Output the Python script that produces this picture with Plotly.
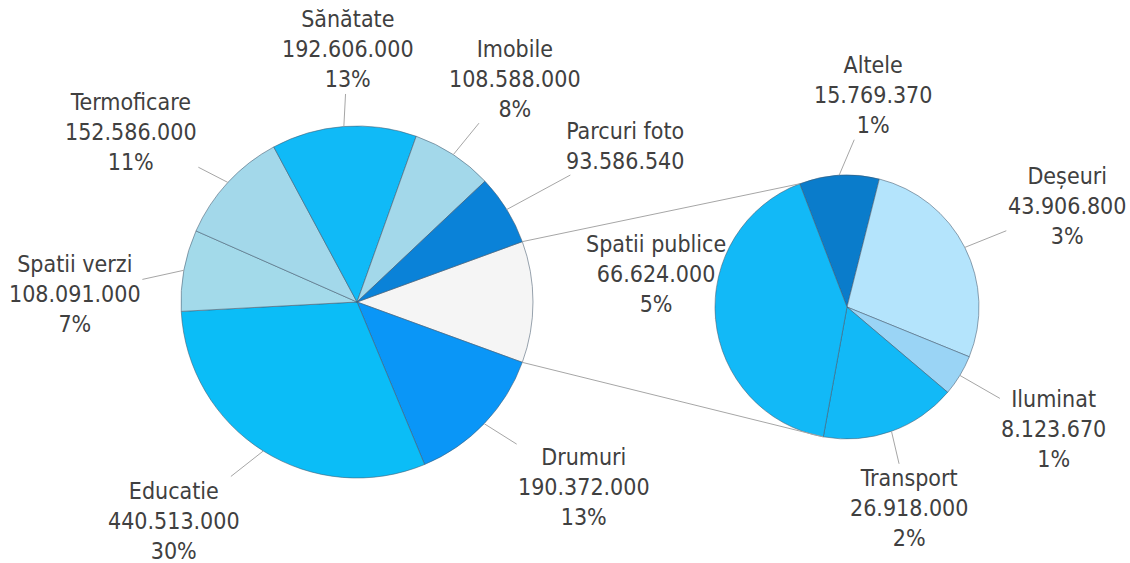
import math
import plotly.graph_objects as go

# ---------------- data ----------------
main_labels = ["Drumuri", "Educatie", "Spatii verzi", "Termoficare",
               "Sănătate", "Imobile", "Parcuri foto"]
main_values = [190372000, 440513000, 108091000, 152586000,
               192606000, 108588000, 93586540]
main_show_pct = [True, True, True, True, True, True, False]

sub_labels = ["Altele", "Deșeuri", "Iluminat", "Transport", "Spatii publice"]
sub_values = [15769370, 43906800, 8123670, 26918000, 66624000]
sub_show_pct = [True, True, True, True, True]

other_label = "Altele (detaliu)"

# ---------------- style ----------------
main_colors = ["#0A96F7", "#0BBDF7", "#A3DAEA", "#A3D8EA",
               "#10BAF7", "#A3D8EA", "#0A82D8"]
other_color = "#F5F5F5"
sub_colors = ["#0A7CCB", "#B4E4FC", "#9AD4F5", "#12B9F7", "#12B9F7"]

W, H = 1130, 563
L_CX, L_CY, L_R = 357, 302, 176
R_CX, R_CY, R_R = 847, 307, 132
R_ROT = -21

FONT = dict(family="DejaVu Sans Condensed, Liberation Sans, Arial, sans-serif",
            size=23, color="#404040")
LINE_COLOR = "#A6A6A6"

label_offsets = {
    "Sănătate": (4, -77), "Imobile": (62, -76), "Parcuri foto": (118, -64),
    "Termoficare": (-97, -50), "Spatii verzi": (-109, 24),
    "Educatie": (-89, 70), "Drumuri": (100, 63),
    "Altele": (34, -80), "Deșeuri": (102, -41), "Iluminat": (94, 54),
    "Transport": (18, 77), "Spatii publice": (-60, -45),
}

# ---------------- derived ----------------
other_value = sum(sub_values)
grand_total = sum(main_values) + other_value
left_labels = [other_label] + main_labels
left_values = [other_value] + main_values
left_colors = [other_color] + main_colors
L_ROT = 90 - 180 * other_value / sum(left_values)


def fmt(v):
    return f"{v:,.0f}".replace(",", ".")


def pct(v):
    return f"{round(100 * v / grand_total)}%"


def domain(cx, cy, r):
    return dict(x=[(cx - r) / W, (cx + r) / W], y=[1 - (cy + r) / H, 1 - (cy - r) / H])


def slice_angles(values, rot, tot=None):
    tot = tot or sum(values)
    out = []
    a = rot
    for v in values:
        d = 360 * v / tot
        out.append((a, a + d))
        a += d
    return out


def edge_point(cx, cy, r, ang):
    t = math.radians(ang)
    return cx + r * math.sin(t), cy - r * math.cos(t)


fig = go.Figure()
line_style = dict(color="rgba(70,90,110,0.55)", width=1)
fig.add_trace(go.Pie(labels=left_labels, values=left_values, sort=False,
                     direction="clockwise", rotation=L_ROT, textinfo="none",
                     marker=dict(colors=left_colors, line=line_style),
                     domain=domain(L_CX, L_CY, L_R), showlegend=False))
fig.add_trace(go.Pie(labels=sub_labels, values=sub_values, sort=False,
                     direction="clockwise", rotation=R_ROT, textinfo="none",
                     marker=dict(colors=sub_colors, line=line_style),
                     domain=domain(R_CX, R_CY, R_R), showlegend=False))

annotations = []


def add_labels(labels, values, show, cx, cy, r, rot, tot):
    for lab, val, sp, (a0, a1) in zip(labels, values, show, slice_angles(values, rot, tot)):
        if lab not in label_offsets:
            continue
        px, py = edge_point(cx, cy, r, (a0 + a1) / 2)
        ax, ay = label_offsets[lab]
        txt = f"{lab}<br>{fmt(val)}" + (f"<br>{pct(val)}" if sp else "")
        annotations.append(dict(x=px / W, y=1 - py / H, xref="paper", yref="paper",
                                ax=ax, ay=ay, text=txt, showarrow=True, arrowhead=0,
                                arrowwidth=1, arrowcolor=LINE_COLOR, standoff=0,
                                font=FONT, align="center",
                                xanchor="center", yanchor="middle"))


add_labels(main_labels, main_values, main_show_pct, L_CX, L_CY, L_R,
           L_ROT + 360 * other_value / sum(left_values), sum(left_values))
add_labels(sub_labels, sub_values, sub_show_pct, R_CX, R_CY, R_R, R_ROT, sum(sub_values))

# connector lines: edges of the "other" slice to edges of the largest sub slice
oth = slice_angles(left_values, L_ROT)[0]
sp_idx = sub_values.index(max(sub_values))
sub_ang = slice_angles(sub_values, R_ROT)[sp_idx]
shapes = []
for la, ra in ((oth[0], sub_ang[1]), (oth[1], sub_ang[0])):
    x0, y0 = edge_point(L_CX, L_CY, L_R, la)
    x1, y1 = edge_point(R_CX, R_CY, R_R, ra)
    shapes.append(dict(type="line", xref="paper", yref="paper",
                       x0=x0 / W, y0=1 - y0 / H, x1=x1 / W, y1=1 - y1 / H,
                       line=dict(color=LINE_COLOR, width=1)))

fig.update_layout(width=W, height=H, margin=dict(l=0, r=0, t=0, b=0),
                  paper_bgcolor="white", plot_bgcolor="white",
                  annotations=annotations, shapes=shapes, showlegend=False)

fig.write_html("out.html", config={"displayModeBar": False},
               post_script="document.body.style.margin='0';")
